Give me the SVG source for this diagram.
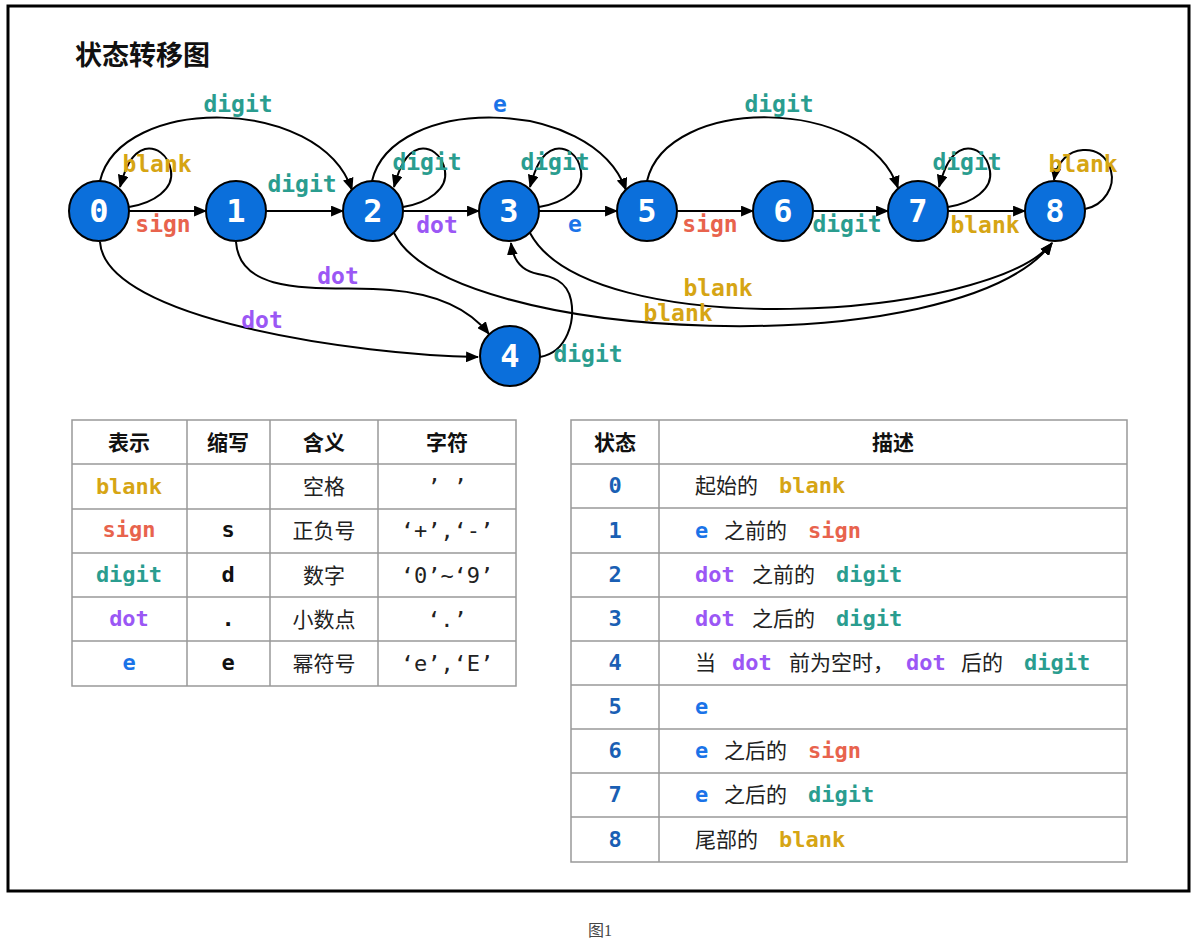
<svg xmlns="http://www.w3.org/2000/svg" width="1196" height="942" viewBox="0 0 1196 942">
<defs>
<marker id="arr" viewBox="0 0 12 10" refX="11" refY="5" markerWidth="13" markerHeight="11" orient="auto" markerUnits="userSpaceOnUse"><path d="M0,0 L12,5 L0,10 z" fill="#000"/></marker>
</defs>
<style>
.node circle{fill:#0b6fdb;stroke:#000;stroke-width:2}
.node text{fill:#fff;font-family:"DejaVu Sans Mono",monospace;font-weight:bold;font-size:32px;text-anchor:middle}
.edge{fill:none;stroke:#000;stroke-width:2;marker-end:url(#arr)}
.lbl{font-family:"DejaVu Sans Mono",monospace;font-weight:bold;font-size:23px;text-anchor:middle}
.m{font-family:"DejaVu Sans Mono",monospace;font-weight:bold;font-size:22px}
.blank{fill:#d6a514}.sign{fill:#e8634d}.digit{fill:#2a9d8f}.dot{fill:#9b57f5}.e{fill:#1a73e8}
.grid{fill:none;stroke:#999;stroke-width:1.5}
.cjk{font-family:"Noto Sans CJK SC",sans-serif;font-size:21px;fill:#222}
.hd{font-family:"Noto Sans CJK SC",sans-serif;font-size:21px;font-weight:bold;fill:#111;text-anchor:middle}
.c{text-anchor:middle}
.num{fill:#1a5fb4}
.blk{fill:#111}
.q{font-family:"DejaVu Sans Mono",monospace;font-size:22px;fill:#222;text-anchor:middle}
</style>
<rect x="8" y="6" width="1181" height="885" fill="#fff" stroke="#000" stroke-width="3"/>
<text x="75" y="65" font-family="Noto Sans CJK SC, sans-serif" font-size="27" font-weight="bold" fill="#111">状态转移图</text>

<g id="connectors">
<path class="edge" d="M129,211 L206,211"/>
<path class="edge" d="M266,211 L343,211"/>
<path class="edge" d="M403,211 L479,211"/>
<path class="edge" d="M539,211 L617,211"/>
<path class="edge" d="M677,211 L753,211"/>
<path class="edge" d="M813,211 L888,211"/>
<path class="edge" d="M948,211 L1025,211"/>
<path class="edge" d="M100,181 C120,95 320,95 352,190"/>
<path class="edge" d="M372,181 C392,95 592,95 626,190"/>
<path class="edge" d="M647,181 C667,95 867,95 898,188"/>
<path class="edge" d="M129,207 C154,203 174,189 171,171 C168,153 155,147 145,149 C131,153 125,169 120,187"/>
<path class="edge" d="M403,207 C428,203 448,189 445,171 C442,153 429,147 419,149 C405,153 399,169 394,187"/>
<path class="edge" d="M539,207 C564,203 584,189 581,171 C578,153 565,147 555,149 C541,153 535,169 530,187"/>
<path class="edge" d="M948,207 C973,203 993,189 990,171 C987,153 974,147 964,149 C950,153 944,169 939,187"/>
<path class="edge" d="M1085,209 C1105,205 1115,186 1111,171 C1107,155 1095,149 1083,150 C1069,151 1057,161 1054,180"/>
<path class="edge" d="M530,233 C590,345 990,320 1052,243"/>
<path class="edge" d="M394,233 C450,345 960,365 1052,243"/>
<path class="edge" d="M100,242 C105,320 360,355 478,357"/>
<path class="edge" d="M236,242 C240,300 330,285 390,290 C440,294 470,310 489,334"/>
<path class="edge" d="M540,357 C568,352 575,320 571,300 C567,280 550,276 538,274 C522,271 513,260 511,243"/>
</g>

<g id="node0" class="node"><circle cx="99" cy="211" r="30"/><text x="99" y="222">0</text></g>
<g id="node1" class="node"><circle cx="236" cy="211" r="30"/><text x="236" y="222">1</text></g>
<g id="node2" class="node"><circle cx="373" cy="211" r="30"/><text x="373" y="222">2</text></g>
<g id="node3" class="node"><circle cx="509" cy="211" r="30"/><text x="509" y="222">3</text></g>
<g id="node4" class="node"><circle cx="510" cy="356" r="30"/><text x="510" y="367">4</text></g>
<g id="node5" class="node"><circle cx="647" cy="211" r="30"/><text x="647" y="222">5</text></g>
<g id="node6" class="node"><circle cx="783" cy="211" r="30"/><text x="783" y="222">6</text></g>
<g id="node7" class="node"><circle cx="918" cy="211" r="30"/><text x="918" y="222">7</text></g>
<g id="node8" class="node"><circle cx="1055" cy="211" r="30"/><text x="1055" y="222">8</text></g>

<g id="edge-labels">
<text class="lbl sign" x="163" y="232">sign</text>
<text class="lbl digit" x="302" y="192">digit</text>
<text class="lbl dot" x="437" y="233">dot</text>
<text class="lbl e" x="575" y="232">e</text>
<text class="lbl sign" x="710" y="232">sign</text>
<text class="lbl digit" x="847" y="232">digit</text>
<text class="lbl blank" x="985" y="233">blank</text>
<text class="lbl digit" x="238" y="112">digit</text>
<text class="lbl e" x="500" y="112">e</text>
<text class="lbl digit" x="779" y="112">digit</text>
<text class="lbl blank" x="157" y="172">blank</text>
<text class="lbl digit" x="427" y="170">digit</text>
<text class="lbl digit" x="555" y="170">digit</text>
<text class="lbl digit" x="967" y="170">digit</text>
<text class="lbl blank" x="1083" y="172">blank</text>
<text class="lbl blank" x="718" y="296">blank</text>
<text class="lbl blank" x="678" y="321">blank</text>
<text class="lbl dot" x="338" y="284">dot</text>
<text class="lbl dot" x="262" y="328">dot</text>
<text class="lbl digit" x="588" y="362">digit</text>
</g>

<g id="table-symbols">
<rect class="grid" x="72" y="420" width="444" height="266"/>
<line class="grid" x1="72" y1="464" x2="516" y2="464"/>
<line class="grid" x1="72" y1="509" x2="516" y2="509"/>
<line class="grid" x1="72" y1="553" x2="516" y2="553"/>
<line class="grid" x1="72" y1="597" x2="516" y2="597"/>
<line class="grid" x1="72" y1="641" x2="516" y2="641"/>
<line class="grid" x1="187" y1="420" x2="187" y2="686"/>
<line class="grid" x1="270" y1="420" x2="270" y2="686"/>
<line class="grid" x1="378" y1="420" x2="378" y2="686"/>
<text class="hd" x="129" y="450">表示</text>
<text class="hd" x="228" y="450">缩写</text>
<text class="hd" x="324" y="450">含义</text>
<text class="hd" x="447" y="450">字符</text>
<text class="m c blank" x="129" y="494">blank</text>
<text class="m c sign" x="129" y="537">sign</text>
<text class="m c digit" x="129" y="582">digit</text>
<text class="m c dot" x="129" y="626">dot</text>
<text class="m c e" x="129" y="670">e</text>
<text class="m c blk" x="228" y="537">s</text>
<text class="m c blk" x="228" y="582">d</text>
<text class="m c blk" x="228" y="626">.</text>
<text class="m c blk" x="228" y="670">e</text>
<text class="cjk c" x="324" y="494">空格</text>
<text class="cjk c" x="324" y="538">正负号</text>
<text class="cjk c" x="324" y="583">数字</text>
<text class="cjk c" x="324" y="627">小数点</text>
<text class="cjk c" x="324" y="671">幂符号</text>
<text class="q" x="447" y="494">’ ’</text>
<text class="q" x="447" y="538">‘+’,‘-’</text>
<text class="q" x="447" y="583">‘0’~‘9’</text>
<text class="q" x="447" y="627">‘.’</text>
<text class="q" x="447" y="671">‘e’,‘E’</text>
</g>

<g id="table-states">
<rect class="grid" x="571" y="420" width="556" height="442"/>
<line class="grid" x1="571" y1="464" x2="1127" y2="464"/>
<line class="grid" x1="571" y1="508" x2="1127" y2="508"/>
<line class="grid" x1="571" y1="553" x2="1127" y2="553"/>
<line class="grid" x1="571" y1="597" x2="1127" y2="597"/>
<line class="grid" x1="571" y1="641" x2="1127" y2="641"/>
<line class="grid" x1="571" y1="685" x2="1127" y2="685"/>
<line class="grid" x1="571" y1="729" x2="1127" y2="729"/>
<line class="grid" x1="571" y1="773" x2="1127" y2="773"/>
<line class="grid" x1="571" y1="817" x2="1127" y2="817"/>
<line class="grid" x1="659" y1="420" x2="659" y2="862"/>
<text class="hd" x="615" y="450">状态</text>
<text class="hd" x="893" y="450">描述</text>
<text class="m c num" x="615" y="493">0</text>
<text class="m c num" x="615" y="538">1</text>
<text class="m c num" x="615" y="582">2</text>
<text class="m c num" x="615" y="626">3</text>
<text class="m c num" x="615" y="670">4</text>
<text class="m c num" x="615" y="714">5</text>
<text class="m c num" x="615" y="758">6</text>
<text class="m c num" x="615" y="802">7</text>
<text class="m c num" x="615" y="847">8</text>
<text y="493"><tspan class="cjk" x="695">起始的</tspan><tspan class="m blank" x="779">blank</tspan></text>
<text y="538"><tspan class="m e" x="695">e</tspan><tspan class="cjk" x="724">之前的</tspan><tspan class="m sign" x="808">sign</tspan></text>
<text y="582"><tspan class="m dot" x="695">dot</tspan><tspan class="cjk" x="752">之前的</tspan><tspan class="m digit" x="836">digit</tspan></text>
<text y="626"><tspan class="m dot" x="695">dot</tspan><tspan class="cjk" x="752">之后的</tspan><tspan class="m digit" x="836">digit</tspan></text>
<text y="670"><tspan class="cjk" x="695">当</tspan><tspan class="m dot" x="732">dot</tspan><tspan class="cjk" x="789">前为空时，</tspan><tspan class="m dot" x="906">dot</tspan><tspan class="cjk" x="961">后的</tspan><tspan class="m digit" x="1024">digit</tspan></text>
<text y="714"><tspan class="m e" x="695">e</tspan></text>
<text y="758"><tspan class="m e" x="695">e</tspan><tspan class="cjk" x="724">之后的</tspan><tspan class="m sign" x="808">sign</tspan></text>
<text y="802"><tspan class="m e" x="695">e</tspan><tspan class="cjk" x="724">之后的</tspan><tspan class="m digit" x="808">digit</tspan></text>
<text y="847"><tspan class="cjk" x="695">尾部的</tspan><tspan class="m blank" x="779">blank</tspan></text>
</g>

<text x="600" y="936" font-family="Liberation Serif, Noto Sans CJK SC, serif" font-size="16" fill="#444" text-anchor="middle">图1</text>
</svg>
